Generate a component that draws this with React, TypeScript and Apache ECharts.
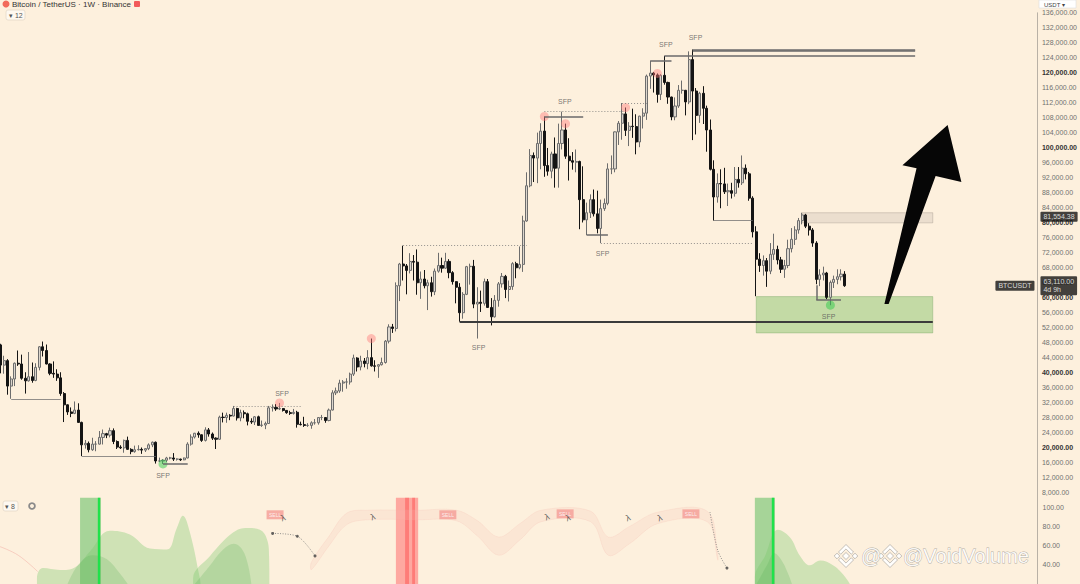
import React, { useEffect, useRef } from 'react';
import * as echarts from 'echarts';

// ---------- DATA (prices in thousands USDT, weekly candles from 2021-12-20) ----------
const firstOpen = 46.7;
const closes = [
  50.8, 47.3, 41.9, 43.1, 36.3, 38.2, 42.4, 42.2, 38.4, 37.7,
  38.8, 37.8, 41.3, 46.8, 45.8, 42.2, 39.7, 39.5, 38.5, 34.3,
  31.3, 29.4, 29.0, 29.9, 26.6, 20.6, 21.0, 19.3, 20.8, 20.8,
  22.6, 23.6, 23.2, 24.4, 21.5, 20.0, 19.8, 21.8, 19.4, 18.8,
  19.3, 19.4, 19.2, 19.6, 20.6, 21.3, 16.3, 16.3, 16.5, 17.1,
  17.1, 16.8, 16.8, 16.6, 17.1, 20.8, 22.7, 23.7, 23.3, 21.8,
  24.6, 23.5, 22.4, 22.1, 28.0, 27.9, 28.5, 28.3, 30.3, 27.8,
  29.2, 28.9, 26.9, 26.7, 28.1, 25.8, 25.9, 26.3, 30.5, 30.6,
  30.2, 30.3, 29.8, 29.2, 29.0, 29.3, 26.1, 26.0, 25.8, 25.8,
  26.5, 26.5, 27.9, 27.9, 27.1, 29.9, 34.5, 35.0, 37.1, 37.4,
  37.4, 39.5, 43.8, 41.4, 43.0, 42.3, 43.9, 41.7, 41.6, 42.0,
  42.6, 48.3, 52.1, 51.7, 63.1, 68.9, 68.4, 67.2, 69.6, 69.4,
  63.9, 64.9, 63.1, 63.9, 61.5, 67.0, 68.5, 67.8, 69.6, 66.6,
  64.2, 62.7, 55.9, 60.8, 68.2, 68.3, 58.2, 58.7, 58.4, 64.2,
  57.3, 54.8, 59.2, 63.6, 65.6, 62.1, 62.9, 69.0, 67.9, 68.8,
  80.4, 89.8, 97.9, 97.2, 101.1, 104.4, 95.2, 93.7, 98.3, 94.5,
  101.1, 104.7, 97.7, 96.5, 96.1, 96.3, 86.1, 80.7, 82.6, 86.1,
  82.3, 78.4, 83.7, 85.1, 94.3, 94.3, 104.2, 106.5, 109.0, 104.6,
  105.7, 105.6, 101.5, 108.4, 109.2, 119.1, 119.9, 119.4, 114.2, 119.3,
  117.4, 113.5, 108.2, 111.1, 115.3, 115.3, 112.2, 123.5, 115.1, 108.6,
  114.5, 110.5, 104.7, 94.2, 86.8, 90.4, 90.3, 88.2, 88.5, 87.8,
  91.5, 90.6, 94.5, 93.0, 86.5, 77.5, 70.2, 68.5, 69.8, 67.0,
  71.5, 72.8, 70.0, 67.5, 68.5, 73.0, 75.5, 78.0, 80.5, 82.0,
  79.0, 78.0, 74.5, 64.8, 66.0, 66.5, 60.0, 64.0, 64.8, 65.5,
  66.2, 63.11,
];
const highs = [
  51.9, 52.1, 47.6, 44.4, 43.5, 38.9, 42.6, 45.8, 44.7, 40.0,
  45.4, 42.6, 42.4, 47.0, 48.2, 47.4, 42.4, 42.9, 40.8, 40.0,
  34.7, 31.4, 30.6, 32.2, 31.7, 26.8, 21.9, 21.5, 22.5, 21.6,
  24.3, 24.7, 23.8, 25.2, 25.0, 21.8, 20.5, 22.0, 22.8, 19.7,
  20.4, 20.5, 19.9, 19.7, 21.0, 21.5, 21.5, 17.2, 16.8, 17.4,
  17.4, 18.4, 17.0, 16.9, 17.2, 21.3, 23.4, 23.8, 24.2, 23.4,
  25.3, 25.1, 23.9, 22.6, 28.4, 29.2, 29.2, 28.8, 31.0, 30.5,
  30.0, 29.8, 29.2, 27.7, 28.3, 28.4, 27.1, 26.8, 31.0, 31.4,
  31.5, 31.8, 30.4, 29.9, 29.7, 30.2, 29.7, 26.8, 28.1, 26.4,
  26.9, 27.5, 28.0, 28.6, 28.0, 30.3, 35.2, 35.9, 38.0, 37.9,
  38.4, 39.9, 44.7, 44.0, 44.4, 43.8, 45.9, 49.0, 43.2, 42.2,
  43.9, 48.6, 52.8, 52.9, 64.0, 69.2, 73.8, 68.9, 71.8, 71.3,
  72.8, 66.9, 67.3, 64.7, 65.5, 67.7, 71.9, 70.6, 71.9, 70.2,
  67.0, 64.3, 63.8, 61.4, 68.4, 69.0, 70.0, 62.7, 61.8, 65.0,
  64.9, 59.8, 60.6, 64.1, 66.5, 66.0, 64.5, 69.4, 69.5, 73.6,
  81.8, 93.4, 99.6, 98.7, 104.0, 106.5, 108.3, 99.9, 98.9, 102.7,
  106.4, 109.6, 106.4, 102.5, 98.8, 99.5, 96.5, 95.0, 85.3, 87.5,
  88.8, 88.5, 86.1, 86.4, 95.8, 97.9, 104.3, 107.1, 111.9, 110.7,
  106.8, 110.4, 108.9, 108.5, 110.5, 119.5, 123.2, 120.2, 119.8, 119.6,
  124.5, 117.6, 113.6, 113.4, 116.7, 117.9, 115.4, 125.7, 126.2, 115.9,
  114.9, 116.4, 111.2, 107.5, 96.6, 93.1, 94.2, 94.6, 90.4, 90.6,
  94.8, 94.8, 97.9, 95.5, 93.5, 87.0, 79.0, 71.8, 71.2, 70.5,
  74.5, 77.0, 73.8, 70.8, 70.0, 75.4, 78.5, 79.0, 81.2, 82.6,
  82.3, 79.8, 78.5, 75.0, 67.5, 68.2, 66.8, 64.5, 65.8, 67.5,
  67.5, 67.0,
];
const lows = [
  45.5, 45.7, 39.7, 39.6, 34.0, 32.9, 36.3, 41.7, 38.0, 34.3,
  37.5, 37.2, 37.6, 40.5, 44.2, 42.1, 39.2, 38.5, 37.7, 33.7,
  26.7, 28.6, 28.0, 28.8, 26.5, 17.6, 19.6, 18.6, 19.0, 18.9,
  20.7, 20.7, 22.4, 22.6, 20.8, 19.5, 19.5, 18.5, 19.3, 18.1,
  18.5, 19.1, 18.2, 18.7, 19.2, 20.0, 15.6, 16.0, 15.5, 16.0,
  16.7, 16.3, 16.4, 16.3, 16.5, 17.0, 20.4, 22.3, 22.5, 21.4,
  21.5, 22.8, 21.9, 19.5, 21.9, 26.6, 26.5, 27.2, 28.2, 27.1,
  26.9, 27.7, 25.8, 26.2, 25.9, 25.7, 25.4, 24.8, 26.2, 29.5,
  29.7, 29.9, 29.5, 28.9, 28.6, 28.7, 25.2, 25.8, 25.4, 25.4,
  24.9, 26.0, 26.0, 27.2, 26.5, 26.9, 29.8, 33.9, 34.5, 34.8,
  35.6, 36.7, 39.0, 40.2, 40.5, 41.3, 40.8, 41.5, 40.2, 38.5,
  41.8, 42.3, 47.7, 50.5, 50.9, 59.0, 64.5, 60.8, 66.4, 64.5,
  60.7, 59.6, 62.4, 56.6, 60.2, 60.6, 66.6, 66.6, 67.6, 65.1,
  63.4, 58.4, 53.5, 54.3, 60.6, 63.4, 57.1, 49.0, 56.1, 57.8,
  57.2, 52.5, 54.6, 57.5, 62.6, 59.8, 58.9, 62.0, 65.1, 67.5,
  66.8, 80.2, 89.4, 90.8, 90.5, 94.2, 92.2, 92.5, 91.8, 89.3,
  89.3, 99.5, 97.0, 91.2, 94.1, 93.4, 78.2, 80.0, 76.6, 81.2,
  81.6, 77.1, 74.5, 83.1, 84.6, 92.9, 93.4, 100.7, 102.1, 103.1,
  100.4, 102.6, 98.2, 100.1, 105.1, 107.4, 115.7, 114.7, 112.0, 112.7,
  116.8, 111.7, 107.3, 107.3, 110.6, 114.4, 108.6, 111.6, 102.0, 103.5,
  106.6, 106.3, 98.9, 93.9, 80.5, 85.3, 83.8, 87.6, 84.4, 86.4,
  86.9, 89.3, 90.0, 91.5, 85.8, 76.0, 60.3, 66.8, 65.8, 62.8,
  66.2, 70.0, 68.8, 66.5, 65.2, 67.8, 72.0, 74.0, 77.0, 79.5,
  78.5, 76.5, 73.5, 63.5, 63.0, 64.5, 59.5, 57.9, 62.5, 63.5,
  64.5, 62.8,
];

// visible week-index window
const weekMin = 1.84;
const weekMax = 295.5;

// axis ticks
const priceMin = 0;
const priceMax = 136;
const priceStep = 4;
const oscMin = 20;
const oscMax = 110;
const oscStep = 20;

// annotation levels: [fromWeek, toWeek, price]
const thinLevels = [[0, 20, 28.9], [5, 19, 32.9], [25, 46, 17.6], [204, 215, 80.5]];
const dottedLevels = [[68, 87, 31.0], [116, 151, 73.8], [156, 179, 109.6], [178, 185, 111.9], [172, 215, 74.5]];
const thickLevels = [[48, 55, 15.5], [156, 167, 108.3], [168, 174, 76.6], [186, 192, 123.2], [233, 240, 59.3], [190, 261, 124.5], [198, 261, 126.2], [198, 261, 125.8]];
const heavyLevels = [[132, 266, 53.5]];
const bracketVerticals = [[233, 63.2, 59.3]];
const demandZone = [[216, 60.2], [266, 50.5]];
const supplyZone = [[229, 82.6], [266, 79.9]];
const sfpLabels = [[48, 12.5], [81.7, 34.4], [137.4, 46.5], [161.8, 112.4], [172.5, 71.8], [190.4, 127.4], [198.8, 129.5], [236.5, 55.0]];
const bearishMarks = [[156, 108.3], [162, 106.4], [179, 110.7], [188, 119.8], [81, 31.8], [107, 49.0]];
const bullishMarks = [[48, 15.5], [237, 57.9]];
const arrowPoints = [[252.3, 58.2], [261.4, 94.5], [257.4, 95.3], [270.2, 106.0], [274.1, 90.8], [266.8, 92.4], [253.5, 58.2]];
const lastPrice = 63.11;
const markedLevel = 81.55438;

// oscillator panel
const oscGreenA = [[12.3, 20], [12.3, 25.9], [14, 36.6], [18.8, 34.6], [23.1, 37.6], [27.3, 54], [33, 75.6], [38.6, 71.7], [44.3, 57.1], [49.1, 56.1], [51.9, 78.5], [53.6, 91.2], [55.6, 73.7], [58.4, 25.9], [58.6, 20]];
const oscGreenB = [[56.5, 20], [56.5, 26], [61.3, 49.3], [67.8, 73.7], [71.8, 78.5], [75.4, 76.6], [77.4, 66.8], [78, 49], [78.1, 20]];
const oscGreenDarkA = [[21, 20], [24, 40], [28, 50], [32, 46], [36, 30], [38, 20]];
const oscGreenDarkB = [[57, 20], [61, 38], [65, 56], [68, 62], [71, 52], [73, 20]];
const oscGreenR = [[215.5, 20], [215.5, 26.8], [218.4, 49.3], [222, 76.6], [225.4, 68.8], [228.3, 49.3], [231.1, 39.5], [234, 44.4], [237.6, 39.5], [240.5, 29.8], [242.4, 20]];
const oscGreenDarkR = [[216, 20], [219, 40], [221, 52], [223, 45], [225, 30], [226, 20]];
const ribbonLow = [[90, 35], [95, 60], [100, 82], [106, 87], [120, 87], [131, 86], [137, 70], [143, 50], [149, 66], [155, 85], [169, 85], [174, 50], [180, 62], [188, 83], [202, 85], [205, 45]];
const ribbonWidth = [8, 10, 12, 10, 10, 11, 16, 19, 17, 12, 11, 19, 18, 12, 11, 6];
const pinkLeft = [[1.84, 59], [7, 50], [12.5, 33]];
const oscLineA = [[79, 72.8], [86, 69.8], [91, 49.3]];
const oscLineB = [[202.8, 95], [205, 55], [207.6, 36.6]];
const oscDots = [[79, 72.8], [86, 69.8], [91, 49.3], [207.6, 36.6]];
const oscSignals = [[79.7, 92.2], [128.6, 92.2], [161.8, 93.2], [197.4, 93.2]];
const oscIcons = [[82, 89], [107.4, 90], [156.7, 90], [162.6, 89], [179.6, 89], [188.6, 89]];
const greenBands = [[24.5, 30.4], [215.5, 221.2]];
const brightGreenLines = [29.9, 220.6];
const redBand = [113.9, 120.2];
const redStripes = [[116.5, 117.6], [118.5, 119.3]];

const FONT = '"Liberation Sans", Arial, sans-serif';
const BG = '#fdf0dd';

function fmtPrice(v: number) {
  return (v * 1000).toLocaleString('en-US') + '.00';
}

function seg(list: number[][], style: any) {
  return list.map(([a, b, p]) => [
    { coord: [a, p], lineStyle: style },
    { coord: [b, p] },
  ]);
}

export default function App() {
  const ref = useRef<HTMLDivElement>(null);

  useEffect(() => {
    if (!ref.current) return;
    const chart = echarts.init(ref.current, null, { renderer: 'svg' });

    const candles = closes.map((c, i) => [i, i === 0 ? firstOpen : closes[i - 1], c, lows[i], highs[i]]);

    const thin = { color: 'rgba(110,110,110,0.75)', width: 1, type: 'solid' };
    const dotted = { color: 'rgba(120,120,120,0.8)', width: 1, type: [1, 2] };
    const thick = { color: '#6a6a6a', width: 1.5, type: 'solid' };
    const heavy = { color: '#3b3b3b', width: 2, type: 'solid' };

    const levelLines = [
      ...seg(thinLevels, thin),
      ...seg(dottedLevels, dotted),
      ...seg(thickLevels, thick),
      ...seg(heavyLevels, heavy),
      ...bracketVerticals.map(([w, a, b]) => [{ coord: [w, a], lineStyle: thick }, { coord: [w, b] }]),
    ];

    const tag = {
      show: true,
      backgroundColor: '#141414',
      color: '#ffffff',
      fontSize: 7,
      fontFamily: FONT,
      padding: [2, 3, 1, 3],
      borderRadius: 1,
    };

    const priceTag = (value: number, text: string, side: 'left' | 'right', extra: any = {}) => ({
      type: 'scatter', xAxisIndex: 0, yAxisIndex: 0, data: [[weekMax, value]], symbolSize: 1, clip: false, silent: true, z: 20,
      itemStyle: { color: 'rgba(0,0,0,0)' },
      label: { ...tag, position: side, distance: side === 'right' ? 3 : 2, formatter: text, ...extra },
    });

    const ribbonPoly = [
      ...ribbonLow.map((p, i) => [p[0], p[1] + ribbonWidth[i]]),
      ...ribbonLow.slice().reverse(),
    ];

    const option: any = {
      animation: false,
      backgroundColor: BG,
      grid: [
        { left: 0, width: 1037.5, top: 12.8, height: 509.2 },
        { left: 0, width: 1037.5, top: 497.75, height: 92.25 },
      ],
      xAxis: [
        { type: 'value', gridIndex: 0, min: weekMin, max: weekMax, show: false },
        { type: 'value', gridIndex: 1, min: weekMin, max: weekMax, show: false },
      ],
      yAxis: [
        {
          type: 'value', gridIndex: 0, position: 'right', min: priceMin, max: priceMax, interval: priceStep,
          axisLine: { show: true, lineStyle: { color: '#b9b1a6', width: 1 } },
          axisTick: { show: false }, splitLine: { show: false },
          axisLabel: {
            margin: 5, fontSize: 7, color: '#707070', fontFamily: FONT,
            formatter: (v: number) => {
              if (v < 8) return '';
              const s = fmtPrice(v);
              return v % 20 === 0 ? `{b|${s}}` : s;
            },
            rich: { b: { fontWeight: 'bold', color: '#333', fontSize: 7, fontFamily: FONT } },
          },
        },
        {
          type: 'value', gridIndex: 1, position: 'right', min: oscMin, max: oscMax, interval: oscStep,
          axisLine: { show: true, lineStyle: { color: '#b9b1a6', width: 1 } },
          axisTick: { show: false }, splitLine: { show: false },
          axisLabel: {
            margin: 5, fontSize: 7, color: '#707070', fontFamily: FONT,
            formatter: (v: number) => (v % 20 === 0 && v >= 40 && v <= 100 ? v.toFixed(2) : ''),
          },
        },
      ],
      series: [
        {
          type: 'candlestick', xAxisIndex: 0, yAxisIndex: 0, data: candles, barWidth: 2.6, z: 3,
          itemStyle: { color: '#dcd6cd', color0: '#141414', borderColor: '#6d6d6d', borderColor0: '#141414', borderWidth: 1 },
          markArea: {
            silent: true,
            data: [
              [{ coord: demandZone[0], itemStyle: { color: 'rgba(160,205,130,0.62)', borderColor: 'rgba(110,160,90,0.6)', borderWidth: 0.6 } }, { coord: demandZone[1] }],
              [{ coord: supplyZone[0], itemStyle: { color: 'rgba(200,190,178,0.35)', borderColor: 'rgba(150,140,130,0.6)', borderWidth: 0.6 } }, { coord: supplyZone[1] }],
            ],
          },
          markLine: {
            silent: true, symbol: ['none', 'none'], label: { show: false },
            data: levelLines,
          },
        },
        priceTag(markedLevel, '81,554.38', 'right'),
        priceTag(lastPrice, '63,110.00\n4d 9h', 'right', { lineHeight: 8 }),
        priceTag(lastPrice, 'BTCUSDT', 'left'),
        {
          type: 'scatter', xAxisIndex: 0, yAxisIndex: 0, data: bearishMarks, symbolSize: 9, z: 4, silent: true,
          itemStyle: { color: 'rgba(255,120,120,0.55)' },
        },
        {
          type: 'scatter', xAxisIndex: 0, yAxisIndex: 0, data: bullishMarks, symbolSize: 9, z: 4, silent: true,
          itemStyle: { color: 'rgba(40,200,70,0.6)' },
        },
        {
          type: 'scatter', xAxisIndex: 0, yAxisIndex: 0, data: sfpLabels, symbolSize: 1, z: 5, silent: true,
          itemStyle: { color: 'rgba(0,0,0,0)' },
          label: { show: true, position: 'inside', formatter: 'SFP', fontSize: 7, color: '#555', fontFamily: FONT },
        },
        {
          type: 'custom', xAxisIndex: 0, yAxisIndex: 0, data: [arrowPoints[0]], z: 10, silent: true, clip: false,
          renderItem: (params: any, api: any) => ({
            type: 'polygon',
            shape: { points: arrowPoints.map((p) => api.coord(p)) },
            style: { fill: '#060606' },
          }),
        },
        // ---- oscillator ----
        {
          type: 'custom', xAxisIndex: 1, yAxisIndex: 1, data: [ribbonPoly[0]], z: 1, silent: true, clip: true,
          renderItem: (params: any, api: any) => ({
            type: 'polygon',
            shape: { points: ribbonPoly.map((p) => api.coord(p)), smooth: 0.35 },
            style: { fill: 'rgba(246,192,182,0.2)', stroke: 'rgba(240,175,165,0.28)', lineWidth: 0.6 },
          }),
        },
        {
          type: 'line', xAxisIndex: 1, yAxisIndex: 1, data: pinkLeft, smooth: 0.4, showSymbol: false, silent: true, z: 2,
          lineStyle: { width: 1, color: 'rgba(240,165,155,0.45)' },
        },
        ...[oscGreenA, oscGreenB, oscGreenR].map((d) => ({
          type: 'line', xAxisIndex: 1, yAxisIndex: 1, data: d, smooth: 0.4, showSymbol: false, silent: true, z: 2,
          lineStyle: { width: 0 }, areaStyle: { color: 'rgba(120,200,105,0.5)', origin: 'start' },
        })),
        ...[oscGreenDarkA, oscGreenDarkB, oscGreenDarkR].map((d) => ({
          type: 'line', xAxisIndex: 1, yAxisIndex: 1, data: d, smooth: 0.4, showSymbol: false, silent: true, z: 2,
          lineStyle: { width: 0 }, areaStyle: { color: 'rgba(80,170,80,0.3)', origin: 'start' },
        })),
        ...[oscLineA, oscLineB].map((d) => ({
          type: 'line', xAxisIndex: 1, yAxisIndex: 1, data: d, smooth: 0.3, showSymbol: false, silent: true, z: 4,
          lineStyle: { width: 0.8, color: '#777', type: [1, 1.5] },
        })),
        {
          type: 'scatter', xAxisIndex: 1, yAxisIndex: 1, data: oscDots, symbolSize: 3, silent: true, z: 5,
          itemStyle: { color: '#444' },
          markArea: {
            silent: true,
            data: [
              ...greenBands.map(([a, b]) => [{ xAxis: a, itemStyle: { color: 'rgba(95,190,95,0.55)' } }, { xAxis: b }]),
              [{ xAxis: redBand[0], itemStyle: { color: 'rgba(255,110,110,0.55)' } }, { xAxis: redBand[1] }],
              ...redStripes.map(([a, b]) => [{ xAxis: a, itemStyle: { color: 'rgba(255,70,70,0.45)' } }, { xAxis: b }]),
            ],
          },
          markLine: {
            silent: true, symbol: ['none', 'none'], label: { show: false },
            data: brightGreenLines.map((w) => ({ xAxis: w, lineStyle: { color: '#1fe24a', width: 2.4, type: 'solid' } })),
          },
        },
        {
          type: 'scatter', xAxisIndex: 1, yAxisIndex: 1, data: oscSignals, symbol: 'rect', symbolSize: [17, 9], silent: true, z: 6,
          itemStyle: { color: '#f59c96' },
          label: { show: true, position: 'inside', formatter: 'SELL', fontSize: 5, color: '#fff', fontFamily: FONT },
        },
        {
          type: 'scatter', xAxisIndex: 1, yAxisIndex: 1, data: oscIcons, symbolSize: 1, silent: true, z: 7,
          itemStyle: { color: 'rgba(0,0,0,0)' },
          label: { show: true, position: 'inside', formatter: 'λ', fontSize: 9, color: '#444', rotate: 20, fontFamily: FONT },
        },
      ],
      graphic: [
        { type: 'circle', shape: { cx: 6, cy: 4, r: 3.5 }, style: { fill: '#f26a5a' } },
        { type: 'text', x: 12, y: 8, style: { text: 'Bitcoin / TetherUS · 1W · Binance', fontSize: 8, fontFamily: FONT, fill: '#333', align: 'left', verticalAlign: 'bottom' } },
        { type: 'rect', shape: { x: 134, y: 1, width: 6, height: 6, r: 1 }, style: { fill: '#f25a5a' } },
        { type: 'rect', shape: { x: 6, y: 10, width: 19, height: 10, r: 2 }, style: { fill: 'rgba(255,255,255,0.55)', stroke: '#e4d8c8', lineWidth: 0.8 } },
        { type: 'text', x: 9, y: 15, style: { text: '▾ 12', fontSize: 7, fontFamily: FONT, fill: '#555', verticalAlign: 'middle' } },
        { type: 'rect', shape: { x: 3, y: 501, width: 15, height: 10, r: 2 }, style: { fill: 'rgba(255,255,255,0.55)', stroke: '#e4d8c8', lineWidth: 0.8 } },
        { type: 'text', x: 5, y: 506, style: { text: '▾ 8', fontSize: 7, fontFamily: FONT, fill: '#555', verticalAlign: 'middle' } },
        { type: 'ring', shape: { cx: 32, cy: 506, r: 3.8, r0: 2 }, style: { fill: '#8a8a8a' } },
        { type: 'rect', shape: { x: 1039, y: 0, width: 37, height: 8 }, style: { fill: '#ffffff', stroke: '#ddd', lineWidth: 0.6 } },
        { type: 'text', x: 1044, y: 7.5, style: { text: 'USDT ▾', fontSize: 6, fontFamily: FONT, fill: '#444', verticalAlign: 'bottom' } },
        // watermark (two overlapping copies of the logo)
        ...[846, 890].flatMap((cx) => {
          const cy = 556;
          const st = { fill: 'rgba(255,255,255,0.9)', stroke: 'rgba(120,120,120,0.55)', lineWidth: 0.8 };
          return [
            { type: 'polygon', z: 50, shape: { points: [[cx, cy - 3.5], [cx + 3.5, cy], [cx, cy + 3.5], [cx - 3.5, cy]] }, style: st },
            { type: 'polygon', z: 50, shape: { points: [[cx - 9, cy - 2.8], [cx - 6.2, cy], [cx - 9, cy + 2.8], [cx - 11.8, cy]] }, style: st },
            { type: 'polygon', z: 50, shape: { points: [[cx + 9, cy - 2.8], [cx + 11.8, cy], [cx + 9, cy + 2.8], [cx + 6.2, cy]] }, style: st },
            { type: 'polygon', z: 50, shape: { points: [[cx - 7.5, cy - 4], [cx, cy - 11.5], [cx + 7.5, cy - 4], [cx + 5.3, cy - 1.8], [cx, cy - 7.1], [cx - 5.3, cy - 1.8]] }, style: st },
            { type: 'polygon', z: 50, shape: { points: [[cx - 7.5, cy + 4], [cx, cy + 11.5], [cx + 7.5, cy + 4], [cx + 5.3, cy + 1.8], [cx, cy + 7.1], [cx - 5.3, cy + 1.8]] }, style: st },
          ];
        }),
        { type: 'text', z: 50, x: 861, y: 556, style: { text: '@', fontSize: 20, fontFamily: FONT, fill: 'rgba(255,255,255,0.9)', stroke: 'rgba(110,110,110,0.55)', lineWidth: 0.8, verticalAlign: 'middle' } },
        { type: 'text', z: 50, x: 903, y: 556, style: { text: '@VoidVolume', fontSize: 20, fontFamily: FONT, fill: 'rgba(255,255,255,0.9)', stroke: 'rgba(110,110,110,0.55)', lineWidth: 0.8, verticalAlign: 'middle' } },
      ],
    };

    chart.setOption(option);
    return () => chart.dispose();
  }, []);

  return <div ref={ref} style={{ position: 'absolute', left: 0, top: 0, width: 1080, height: 584, background: BG }} />;
}
